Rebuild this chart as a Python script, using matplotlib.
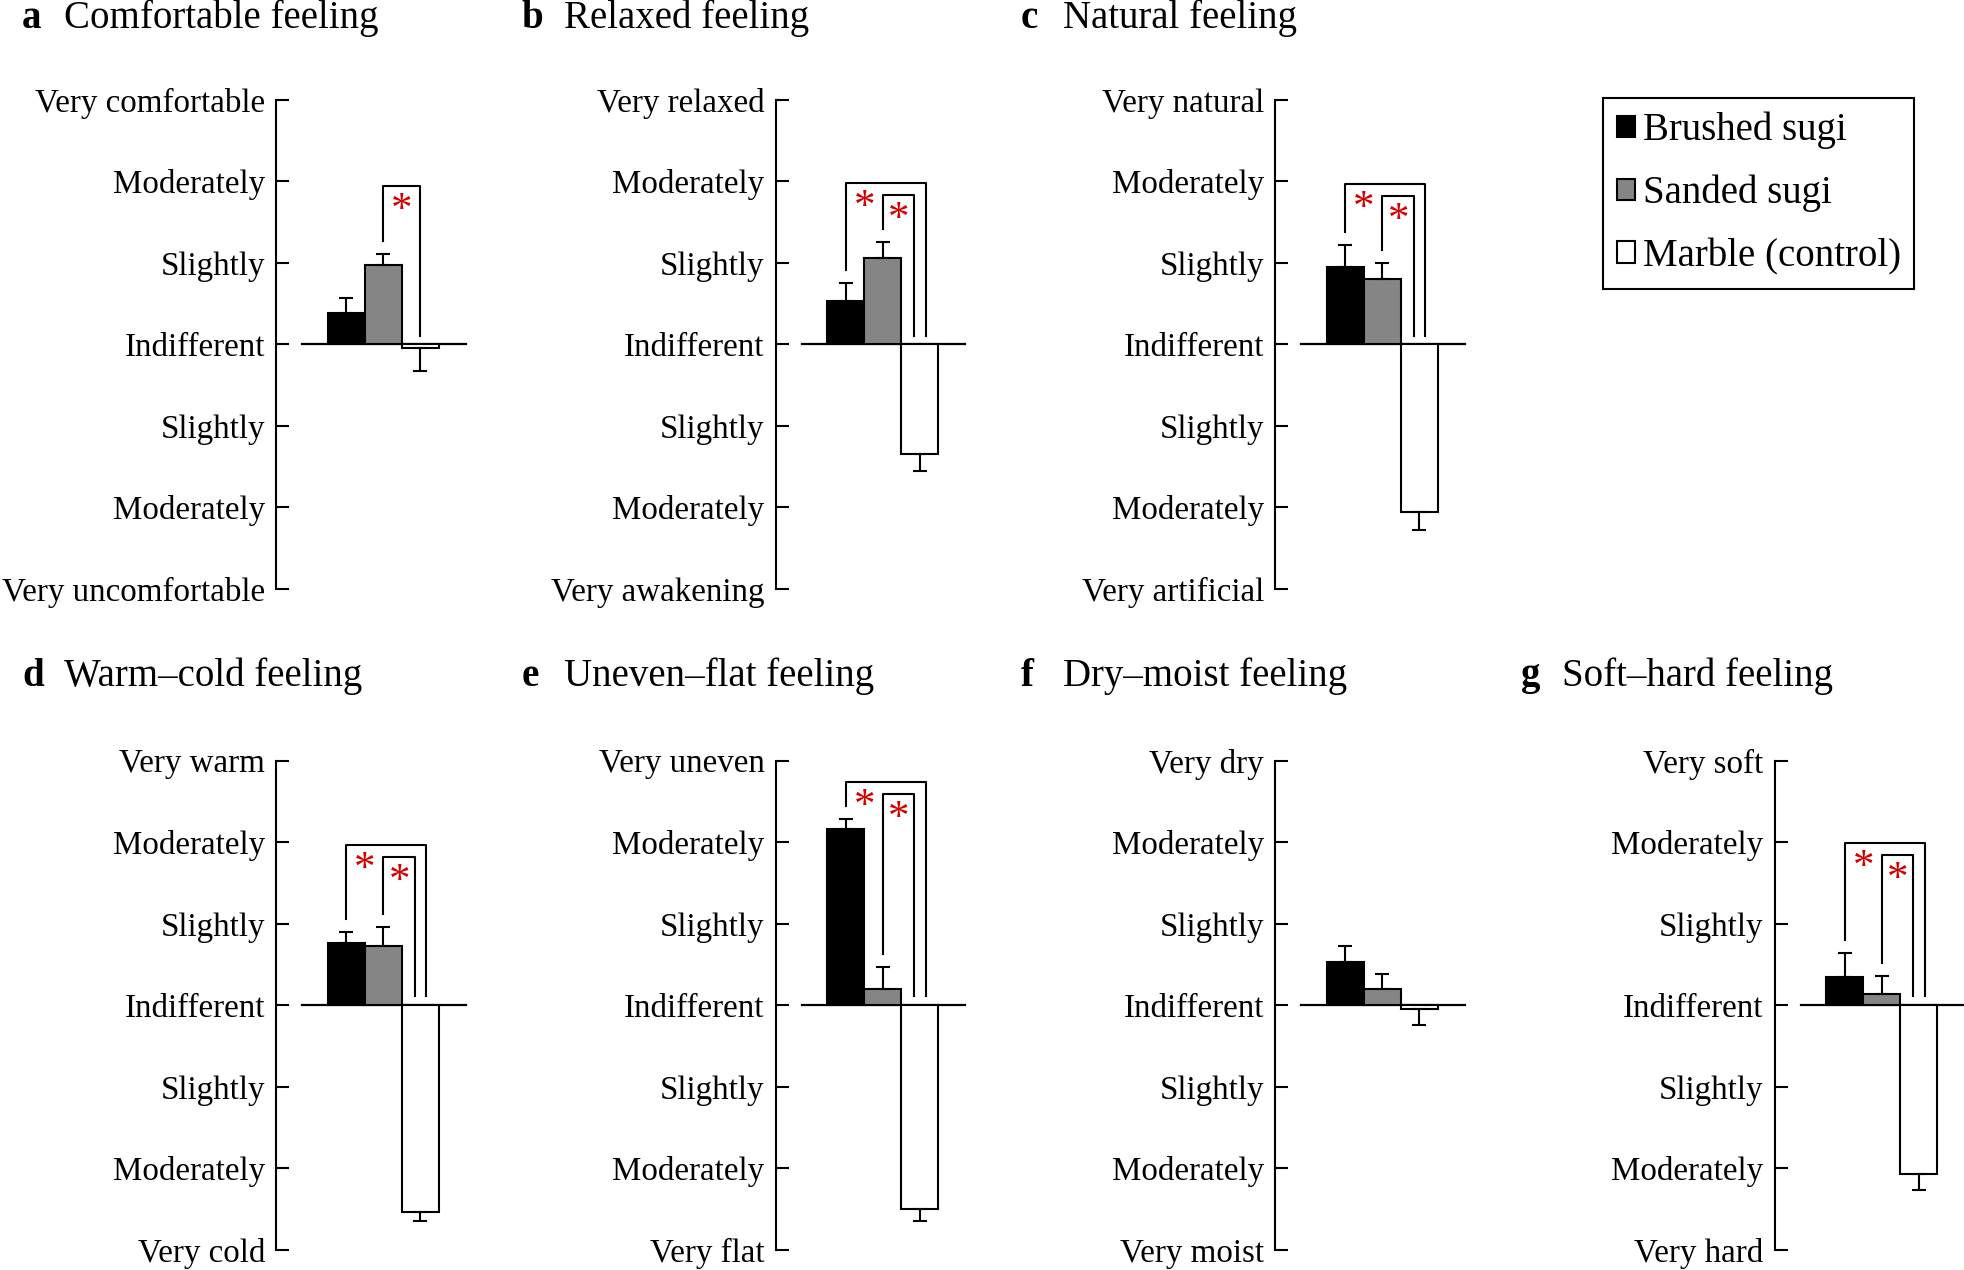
import matplotlib
matplotlib.use("Agg")
import matplotlib.pyplot as plt

plt.rcParams["font.family"] = ["Liberation Serif", "DejaVu Serif"]

# panel text
panel_letters = ["a", "b", "c", "d", "e", "f", "g"]
panel_titles = ["Comfortable feeling", "Relaxed feeling", "Natural feeling",
                "Warm\u2013cold feeling", "Uneven\u2013flat feeling",
                "Dry\u2013moist feeling", "Soft\u2013hard feeling"]
top_labels = ["Very comfortable", "Very relaxed", "Very natural", "Very warm",
              "Very uneven", "Very dry", "Very soft"]
bottom_labels = ["Very uncomfortable", "Very awakening", "Very artificial", "Very cold",
                 "Very flat", "Very moist", "Very hard"]
mid_labels = ["Moderately", "Slightly", "Indifferent", "Slightly", "Moderately"]
scale_ticks = [-3, -2, -1, 0, 1, 2, 3]

materials = ["Brushed sugi", "Sanded sugi", "Marble (control)"]

# mean scores (-3 .. 3) and SE, one entry per panel a..g
brushed = [0.39, 0.53, 0.95, 0.76, 2.16, 0.53, 0.35]
brushed_err = [0.18, 0.22, 0.27, 0.14, 0.12, 0.20, 0.29]
sanded = [0.98, 1.06, 0.80, 0.73, 0.20, 0.20, 0.135]
sanded_err = [0.13, 0.20, 0.20, 0.23, 0.27, 0.18, 0.225]
marble = [-0.045, -1.34, -2.06, -2.54, -2.50, -0.04, -2.07]
marble_err = [0.285, 0.21, 0.21, 0.11, 0.15, 0.20, 0.19]

# significant differences vs marble (index of the wood bar) and bracket level
sig_pairs = [[1], [0, 1], [0, 1], [0, 1], [0, 1], [], [0, 1]]
bracket_top = [1.95, 1.98, 1.97, 1.97, 2.74, None, 1.99]

colors = ["black", "#858585", "white"]

W, H = 1964, 1270
fig = plt.figure(figsize=(W / 100, H / 100), dpi=100)

grid_pos = [(0, 0), (0, 1), (0, 2), (1, 0), (1, 1), (1, 2), (1, 3)]
row_px = [(100, 589), (760.7, 1250)]
title_y = [18, 676]
x_lo, x_hi = -1.905, 3.3
unit_px = 37.0

legend_handles = None
for p, (row, col) in enumerate(grid_pos):
    spine_x = 276 + 499.5 * col
    top_px, bot_px = row_px[row]
    ax = fig.add_axes([spine_x / W, 1 - bot_px / H, (x_hi - x_lo) * unit_px / W, (bot_px - top_px) / H])
    ax.set_xlim(x_lo, x_hi)
    ax.set_ylim(-3, 3)

    vals = [brushed[p], sanded[p], marble[p]]
    errs = [brushed_err[p], sanded_err[p], marble_err[p]]

    ax.plot([-1.2, 3.23], [0, 0], color="k", lw=1.6, zorder=1, clip_on=False)
    handles = []
    for i in range(3):
        b = ax.bar(i, vals[i], width=1.0, color=colors[i], edgecolor="k", linewidth=1.5,
                   label=materials[i], zorder=2)
        handles.append(b)
        yerr = [[0], [errs[i]]] if vals[i] >= 0 else [[errs[i]], [0]]
        ax.errorbar(i, vals[i], yerr=yerr, fmt="none", ecolor="k", elinewidth=1.5,
                    capsize=4.7, capthick=1.5, zorder=3)
    if legend_handles is None:
        legend_handles = handles

    pairs = sig_pairs[p]
    for k, i in enumerate(pairs):
        level = bracket_top[p] - 0.15 * k
        xr = 2.0 if len(pairs) == 1 else 2.15 - 0.3 * k
        ax.plot([i, i, xr, xr], [vals[i] + errs[i] + 0.16, level, level, 0.11],
                color="k", lw=1.5, zorder=3)
        nxt = pairs[k + 1] if k + 1 < len(pairs) else xr
        ax.text((i + nxt) / 2, level - 0.43, "*", color="#d40000", ha="center",
                va="baseline", fontsize=31)

    for s in ["top", "right", "bottom"]:
        ax.spines[s].set_visible(False)
    ax.spines["left"].set_linewidth(1.5)
    ax.set_xticks([])
    ax.set_yticks(scale_ticks)
    ax.set_yticklabels([bottom_labels[p]] + mid_labels + [top_labels[p]])
    ax.tick_params(axis="y", direction="in", length=9.4, width=1.5, pad=8, labelsize=23.8)

    fig.text((spine_x - 254) / W, 1 - title_y[row] / H, panel_letters[p],
             fontweight="bold", fontsize=28, va="center")
    fig.text((spine_x - 212) / W, 1 - title_y[row] / H, panel_titles[p],
             fontsize=28, va="center")

leg = fig.legend(handles=legend_handles, labels=materials, loc="upper left",
                 bbox_to_anchor=(1603 / W, 1 - 98 / H), fontsize=28, frameon=True,
                 fancybox=False, edgecolor="k", framealpha=1, handlelength=0.47,
                 handleheight=0.47, handletextpad=0.2, labelspacing=0.66,
                 borderpad=0.35, borderaxespad=0)
leg.get_frame().set_linewidth(1.5)

fig.savefig("out.png", dpi=100)
